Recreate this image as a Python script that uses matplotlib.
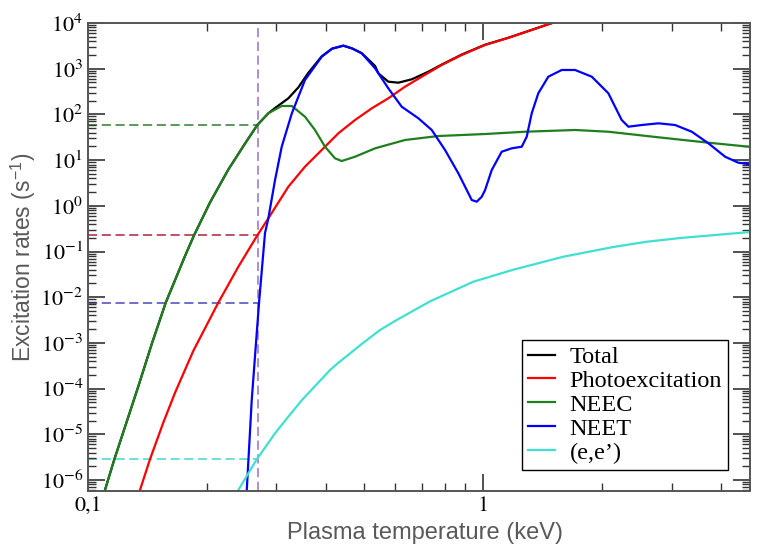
import numpy as np
import matplotlib
matplotlib.use("Agg")
import matplotlib.pyplot as plt
from matplotlib.ticker import FixedLocator, FixedFormatter, LogLocator, NullFormatter

plt.rcParams['mathtext.fontset'] = 'stix'

# ---- data: temperature (keV) and log10(rate / s^-1) ----
neec_T = [0.1104, 0.1166, 0.1341, 0.1450, 0.1573, 0.1760, 0.1855, 0.2036, 0.2266, 0.2497,
          0.2683, 0.2861, 0.3093, 0.3281, 0.3542, 0.3755, 0.3981, 0.4220, 0.4388, 0.4742,
          0.5330, 0.6346, 0.7705, 1.012, 1.277, 1.710, 2.076, 2.779, 3.719, 4.882]
neec_log = [-6.219, -5.547, -3.950, -3.024, -2.120, -1.100, -0.646, 0.072, 0.794, 1.361,
            1.768, 2.024, 2.184, 2.184, 1.950, 1.659, 1.293, 1.039, 0.980, 1.074,
            1.258, 1.440, 1.527, 1.571, 1.621, 1.659, 1.621, 1.499, 1.381, 1.280]

photo_T = [0.1354, 0.1435, 0.1551, 0.1661, 0.1847, 0.2137, 0.2402, 0.2683, 0.2861, 0.3215,
           0.3542, 0.3905, 0.4302, 0.4742, 0.5228, 0.5757, 0.6346, 0.6997, 0.7859, 0.8834,
           1.012, 1.157, 1.339, 1.496, 1.8]
photo_log = [-6.219, -5.547, -4.743, -4.089, -3.176, -2.120, -1.333, -0.646, -0.274, 0.418,
             0.856, 1.221, 1.586, 1.877, 2.133, 2.352, 2.606, 2.825, 3.081, 3.300,
             3.519, 3.672, 3.858, 4.0, 4.23]

neet_T = [0.2490, 0.2523, 0.2597, 0.2674, 0.2710, 0.2806, 0.2861, 0.2975, 0.3093, 0.3281,
          0.3542, 0.3905, 0.4148, 0.4429, 0.4661, 0.4931, 0.5330, 0.5757, 0.6225, 0.6860,
          0.7415, 0.8013, 0.8660, 0.9363, 0.9640, 0.9925, 1.012, 1.052, 1.115, 1.182,
          1.253, 1.290, 1.328, 1.380, 1.463, 1.582, 1.710, 1.885, 2.076, 2.244,
          2.333, 2.522, 2.779, 3.063, 3.376, 3.719, 4.100, 4.430, 4.882]
neet_log = [-7.1, -6.219, -4.249, -2.783, -2.120, -0.595, -0.274, 0.565, 1.293, 2.024,
            2.753, 3.263, 3.437, 3.503, 3.442, 3.337, 3.009, 2.571, 2.168, 1.915,
            1.659, 1.221, 0.711, 0.127, 0.090, 0.199, 0.346, 0.783, 1.184, 1.258,
            1.293, 1.512, 2.024, 2.462, 2.825, 2.972, 2.972, 2.825, 2.462, 1.877,
            1.731, 1.768, 1.805, 1.768, 1.621, 1.368, 1.074, 0.943, 0.893]

ee_T = [0.2402, 0.2674, 0.2975, 0.3209, 0.3481, 0.4100, 0.4295, 0.4968, 0.5484, 0.6046,
        0.7343, 0.9450, 1.191, 1.597, 2.134, 2.597, 3.153, 4.74]
ee_log = [-6.219, -5.547, -4.978, -4.621, -4.249, -3.593, -3.440, -3.002, -2.718, -2.499,
          -2.090, -1.661, -1.400, -1.114, -0.902, -0.786, -0.705, -0.573]

total_T = [0.1104, 0.1166, 0.1341, 0.1450, 0.1573, 0.1760, 0.1855, 0.2036, 0.2266, 0.2497,
           0.2683, 0.2861, 0.2975, 0.3215, 0.3407, 0.3612, 0.3905, 0.4148, 0.4429, 0.4661,
           0.4931, 0.5330, 0.5432, 0.5757, 0.6104, 0.6601, 0.7270, 0.7859, 0.8834, 1.012,
           1.157, 1.339, 1.496, 1.8]
total_log = [-6.219, -5.547, -3.950, -3.024, -2.120, -1.100, -0.646, 0.072, 0.794, 1.361,
             1.768, 2.024, 2.14, 2.352, 2.590, 2.910, 3.27, 3.44, 3.505, 3.445,
             3.34, 3.06, 2.899, 2.716, 2.694, 2.768, 2.934, 3.09, 3.31, 3.525,
             3.675, 3.86, 4.0, 4.23]

marker_T = 0.269
marker_levels = [58.6, 0.23, 7.5e-3, 2.9e-6]
marker_colors = ['#2e7d32', '#b0203a', '#4848c0', '#40d8d0']

series_labels = ['Total', 'Photoexcitation', 'NEEC', 'NEET', "(e,e\u2019)"]
series_colors = ['#000000', '#ff0000', '#1f7f1f', '#0000ff', '#40e0d0']

y_tick_exps = [-6, -5, -4, -3, -2, -1, 0, 1, 2, 3, 4]
x_major = [0.1, 1.0]
x_major_labels = ['0,1', '1']

# ---- figure ----
fig = plt.figure(figsize=(7.59, 5.46), dpi=100)
ax = fig.add_axes([88/759, 1-491/546, 662/759, 468/546])

ax.set_xscale('log')
ax.set_yscale('log')
ax.set_xlim(0.1, 4.74)
ax.set_ylim(10**-6.24, 1e4)

# reference dashed lines
ax.axvline(marker_T, color='#9a6fd0', lw=1.1, dashes=(6, 3), zorder=1)
for lev, c in zip(marker_levels, marker_colors):
    ax.plot([0.1, marker_T], [lev, lev], color=c, lw=1.1, dashes=(6, 3), zorder=1)

data = [(total_T, total_log), (photo_T, photo_log), (neec_T, neec_log),
        (neet_T, neet_log), (ee_T, ee_log)]
for (xs, ls), lab, col in zip(data, series_labels, series_colors):
    ax.plot(xs, 10.0 ** np.asarray(ls), color=col, lw=1.6, label=lab, zorder=2,
            solid_joinstyle='round')

# ticks
ax.xaxis.set_major_locator(FixedLocator(x_major))
ax.xaxis.set_major_formatter(FixedFormatter(x_major_labels))
ax.xaxis.set_minor_locator(LogLocator(base=10, subs=np.arange(2, 10)))
ax.xaxis.set_minor_formatter(NullFormatter())

ax.yaxis.set_major_locator(FixedLocator([10.0**e for e in y_tick_exps]))
ax.yaxis.set_major_formatter(FixedFormatter([r'$\mathregular{10^{%d}}$' % e for e in y_tick_exps]))
ax.yaxis.set_minor_locator(LogLocator(base=10, subs=np.arange(2, 10), numticks=30))
ax.yaxis.set_minor_formatter(NullFormatter())

ax.tick_params(which='both', direction='in', top=True, right=True, colors='#333333')
ax.tick_params(which='major', length=12, width=1.2, labelsize=16, labelcolor='black')
ax.tick_params(which='minor', length=6, width=1.0)
for lab in ax.get_xticklabels() + ax.get_yticklabels():
    lab.set_fontfamily('STIXGeneral')

for sp in ax.spines.values():
    sp.set_color('#555555')
    sp.set_linewidth(1.4)

ax.set_xlabel('Plasma temperature (keV)', fontsize=17, color='#595959',
              fontfamily='Liberation Sans')
ax.xaxis.set_label_coords(0.509, -0.066)
ax.set_ylabel(r'Excitation rates (s$^{\mathregular{-1}}$)', fontsize=16.5, color='#595959',
              fontfamily='Liberation Sans', labelpad=2)

leg = ax.legend(loc='lower right', bbox_to_anchor=(0.967, 0.045), borderaxespad=0,
                frameon=True, fancybox=False, edgecolor='black', framealpha=1,
                prop={'family': 'Liberation Serif', 'size': 17.5},
                handlelength=1.1, handletextpad=0.6, labelspacing=0.08,
                borderpad=0.25)
leg.get_frame().set_linewidth(1.0)

fig.savefig('out.png', dpi=100)
